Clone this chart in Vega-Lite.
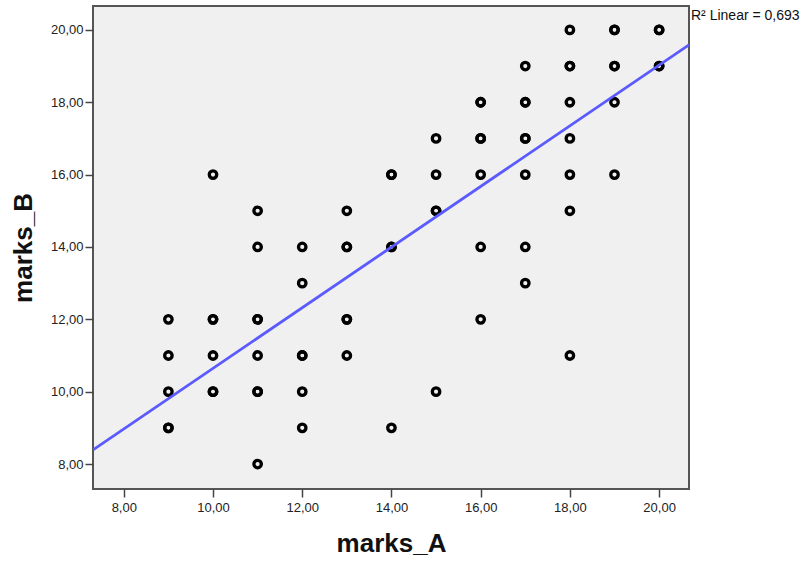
{
  "$schema": "https://vega.github.io/schema/vega-lite/v6.json",
  "autosize": "none",
  "width": 596,
  "height": 483,
  "padding": {"left": 93, "top": 6, "right": 115, "bottom": 73},
  "background": "white",
  "config": {
    "view": {"fill": "#f0f0f0", "stroke": "#555555", "strokeWidth": 2},
    "font": "Liberation Sans"
  },
  "datasets": {
    "points": [
      {"marks_A": 9, "marks_B": 12}, {"marks_A": 9, "marks_B": 11}, {"marks_A": 9, "marks_B": 10}, {"marks_A": 9, "marks_B": 9}, {"marks_A": 9, "marks_B": 9},
      {"marks_A": 10, "marks_B": 16}, {"marks_A": 10, "marks_B": 12}, {"marks_A": 10, "marks_B": 12}, {"marks_A": 10, "marks_B": 11}, {"marks_A": 10, "marks_B": 10}, {"marks_A": 10, "marks_B": 10},
      {"marks_A": 11, "marks_B": 15}, {"marks_A": 11, "marks_B": 14}, {"marks_A": 11, "marks_B": 12}, {"marks_A": 11, "marks_B": 12}, {"marks_A": 11, "marks_B": 11}, {"marks_A": 11, "marks_B": 10}, {"marks_A": 11, "marks_B": 10}, {"marks_A": 11, "marks_B": 8},
      {"marks_A": 12, "marks_B": 14}, {"marks_A": 12, "marks_B": 13}, {"marks_A": 12, "marks_B": 11}, {"marks_A": 12, "marks_B": 11}, {"marks_A": 12, "marks_B": 10}, {"marks_A": 12, "marks_B": 9},
      {"marks_A": 13, "marks_B": 15}, {"marks_A": 13, "marks_B": 14}, {"marks_A": 13, "marks_B": 14}, {"marks_A": 13, "marks_B": 12}, {"marks_A": 13, "marks_B": 12}, {"marks_A": 13, "marks_B": 11},
      {"marks_A": 14, "marks_B": 16}, {"marks_A": 14, "marks_B": 16}, {"marks_A": 14, "marks_B": 14}, {"marks_A": 14, "marks_B": 14}, {"marks_A": 14, "marks_B": 9},
      {"marks_A": 15, "marks_B": 17}, {"marks_A": 15, "marks_B": 16}, {"marks_A": 15, "marks_B": 15}, {"marks_A": 15, "marks_B": 15}, {"marks_A": 15, "marks_B": 10},
      {"marks_A": 16, "marks_B": 18}, {"marks_A": 16, "marks_B": 18}, {"marks_A": 16, "marks_B": 17}, {"marks_A": 16, "marks_B": 17}, {"marks_A": 16, "marks_B": 16}, {"marks_A": 16, "marks_B": 14}, {"marks_A": 16, "marks_B": 12},
      {"marks_A": 17, "marks_B": 19}, {"marks_A": 17, "marks_B": 18}, {"marks_A": 17, "marks_B": 18}, {"marks_A": 17, "marks_B": 17}, {"marks_A": 17, "marks_B": 17}, {"marks_A": 17, "marks_B": 16}, {"marks_A": 17, "marks_B": 14}, {"marks_A": 17, "marks_B": 13},
      {"marks_A": 18, "marks_B": 20}, {"marks_A": 18, "marks_B": 19}, {"marks_A": 18, "marks_B": 19}, {"marks_A": 18, "marks_B": 18}, {"marks_A": 18, "marks_B": 17}, {"marks_A": 18, "marks_B": 16}, {"marks_A": 18, "marks_B": 15}, {"marks_A": 18, "marks_B": 11},
      {"marks_A": 19, "marks_B": 20}, {"marks_A": 19, "marks_B": 20}, {"marks_A": 19, "marks_B": 19}, {"marks_A": 19, "marks_B": 19}, {"marks_A": 19, "marks_B": 18}, {"marks_A": 19, "marks_B": 16},
      {"marks_A": 20, "marks_B": 20}, {"marks_A": 20, "marks_B": 20}, {"marks_A": 20, "marks_B": 19}, {"marks_A": 20, "marks_B": 19}
    ],
    "fit": [
      {"marks_A": 7.31, "marks_B": 8.39},
      {"marks_A": 20.67, "marks_B": 19.585}
    ],
    "label": [
      {"marks_A": 20.67, "marks_B": 20.66, "text": "R² Linear = 0,693"}
    ]
  },
  "encoding": {
    "x": {
      "field": "marks_A", "type": "quantitative",
      "scale": {"domain": [7.31, 20.67], "nice": false, "zero": false},
      "axis": {
        "title": "marks_A", "values": [8, 10, 12, 14, 16, 18, 20],
        "labelExpr": "replace(format(datum.value, '.2f'), '.', ',')",
        "grid": false, "domain": false, "tickColor": "#444444", "tickSize": 8, "tickWidth": 1.5,
        "labelFont": "Liberation Sans", "labelFontSize": 13, "labelColor": "#222222", "labelPadding": 4,
        "titleFont": "Liberation Sans", "titleFontSize": 26, "titleFontWeight": "bold", "titleColor": "#111111", "titlePadding": 16
      }
    },
    "y": {
      "field": "marks_B", "type": "quantitative",
      "scale": {"domain": [7.31, 20.66], "nice": false, "zero": false},
      "axis": {
        "title": "marks_B", "values": [8, 10, 12, 14, 16, 18, 20],
        "labelExpr": "replace(format(datum.value, '.2f'), '.', ',')",
        "grid": false, "domain": false, "tickColor": "#444444", "tickSize": 8, "tickWidth": 1.5,
        "labelFont": "Liberation Sans", "labelFontSize": 13, "labelColor": "#222222", "labelPadding": 2,
        "titleFont": "Liberation Sans", "titleFontSize": 26, "titleFontWeight": "bold", "titleColor": "#111111", "titlePadding": 14
      }
    }
  },
  "layer": [
    {
      "data": {"name": "points"},
      "mark": {"type": "point", "shape": "circle", "filled": false, "stroke": "black", "strokeWidth": 3.3, "size": 56, "opacity": 1}
    },
    {
      "data": {"name": "fit"},
      "mark": {"type": "line", "color": "#5a5aff", "strokeWidth": 2.8, "clip": true}
    },
    {
      "data": {"name": "label"},
      "mark": {"type": "text", "align": "left", "baseline": "top", "dx": 2, "dy": 3, "fontSize": 14, "font": "Liberation Sans", "color": "#111111"},
      "encoding": {"text": {"field": "text"}}
    }
  ]
}
